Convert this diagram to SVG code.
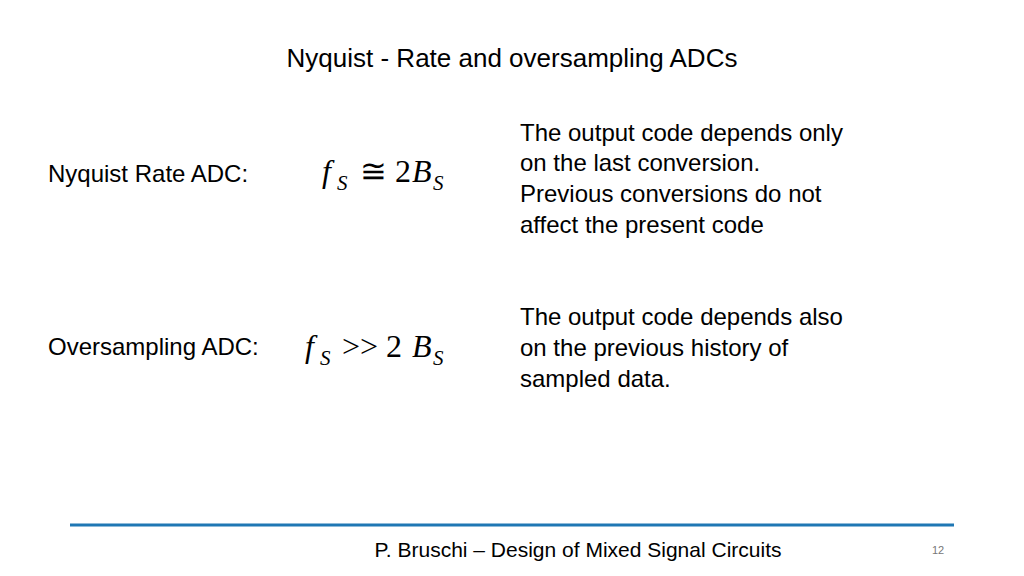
<svg xmlns="http://www.w3.org/2000/svg" width="1024" height="576" viewBox="0 0 1024 576">
<style>
.t{font-family:"Liberation Sans",Arial,sans-serif;font-size:24px;fill:#000}
.m{font-family:"Liberation Serif","Times New Roman",serif;font-size:32px;fill:#000}
.s{font-family:"Liberation Serif","Times New Roman",serif;font-size:21px;fill:#000}
</style>
<rect width="1024" height="576" fill="#fff"/>
<text class="t" x="512" y="67" text-anchor="middle" style="font-size:26px">Nyquist - Rate and oversampling ADCs</text>
<g id="nyq">
<text class="t" x="48" y="182">Nyquist Rate ADC:</text>
<text class="m" x="322" y="182" font-style="italic">f</text>
<text class="s" x="337" y="190" font-style="italic">S</text>
<text class="m" x="360" y="182">≅ 2</text>
<text class="m" x="412" y="182" font-style="italic">B</text>
<text class="s" x="433" y="190" font-style="italic">S</text>
<text class="t" x="520" y="141">The output code depends only</text>
<text class="t" x="520" y="171">on the last conversion.</text>
<text class="t" x="520" y="202">Previous conversions do not</text>
<text class="t" x="520" y="233">affect the present code</text>
</g>
<g id="over">
<text class="t" x="48" y="355">Oversampling ADC:</text>
<text class="m" x="305" y="357" font-style="italic">f</text>
<text class="s" x="320" y="365" font-style="italic">S</text>
<text class="m" x="342" y="357">&gt;&gt; 2</text>
<text class="m" x="412" y="357" font-style="italic">B</text>
<text class="s" x="433" y="365" font-style="italic">S</text>
<text class="t" x="520" y="325">The output code depends also</text>
<text class="t" x="520" y="356">on the previous history of</text>
<text class="t" x="520" y="387">sampled data.</text>
</g>
<g id="footer">
<line x1="70" y1="525" x2="954" y2="525" stroke="#1f77b4" stroke-width="3"/>
<text class="t" x="578" y="557" text-anchor="middle" style="font-size:21px">P. Bruschi – Design of Mixed Signal Circuits</text>
<text class="t" x="938" y="554" text-anchor="middle" style="font-size:11px;fill:#777">12</text>
</g>
</svg>
